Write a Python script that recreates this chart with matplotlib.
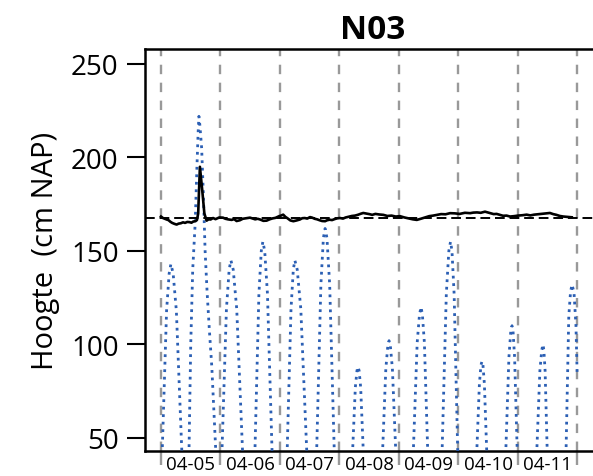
import matplotlib
matplotlib.use("Agg")
import matplotlib.pyplot as plt
import numpy as np
import pandas as pd

plt.rcParams['font.family'] = ['Open Sans', 'DejaVu Sans']

# ---- data (hours after 04-05 00:00) ----
tide_hours = [0.0, 0.5, 2.25, 3.3, 4.0, 4.9, 6.2, 8.4,
              9.85,
              11.3, 12.0, 12.8, 13.8, 14.5, 15.0, 15.3, 15.7, 16.4, 17.1, 17.8, 18.6, 19.5, 20.5, 22.1,
              23.35,
              24.6, 26.4, 27.5, 28.2, 29.14, 30.55, 32.9,
              35.4,
              37.9, 39.5, 40.46, 41.1, 41.84, 42.95, 44.8,
              47.85,
              50.9, 52.45, 53.38, 54.0, 54.96, 56.4, 58.8,
              60.8,
              62.8, 64.5, 65.52, 66.2, 66.94, 68.05, 69.9,
              73.6,
              77.3, 78.4, 79.06, 79.5, 79.92, 80.55, 81.6,
              85.5,
              89.4, 90.7, 91.48, 92.0, 92.54, 93.35, 94.7,
              98.25,
              101.8, 103.35, 104.28, 104.9, 105.44, 106.25, 107.6,
              110.5,
              113.4, 115.1, 116.12, 116.8, 117.38, 118.25, 119.7,
              123.55,
              127.4, 128.45, 129.08, 129.5, 129.88, 130.45, 131.4,
              135.25,
              139.1, 140.35, 141.1, 141.6, 142.02, 142.65, 143.7,
              147.65,
              151.6, 152.85, 153.6, 154.1, 154.44, 154.95, 155.8,
              159.6,
              163.4, 164.5, 165.2, 165.8, 166.6, 167.4, 167.9]
tide_cm = [25, 43, 118, 138, 143, 138, 118, 43,
           -10,
           43, 100, 140, 165, 195, 214, 222, 217, 205, 180, 150, 128, 108, 88, 43,
           0,
           43, 119, 140, 145, 140, 119, 43,
           -40,
           43, 127, 150, 155, 150, 127, 43,
           -50,
           43, 119, 140, 145, 140, 119, 43,
           -40,
           43, 132, 157, 162, 157, 132, 43,
           -70,
           43, 77, 86, 88, 86, 77, 43,
           -70,
           43, 87, 99, 102, 99, 87, 43,
           -70,
           43, 101, 116, 120, 116, 101, 43,
           -60,
           43, 127, 150, 155, 150, 127, 43,
           -80,
           43, 79, 89, 91, 89, 79, 43,
           -80,
           43, 93, 107, 110, 107, 93, 43,
           -80,
           43, 86, 97, 100, 97, 86, 43,
           -80,
           43, 115, 128, 132, 128, 110, 83]

level_hours = [0, 0.8, 1.5, 2.3, 3, 3.8, 4.5, 5.4, 6.3, 7.1, 8, 8.9, 9.7, 10.6, 11.5, 12.3, 13.0, 13.8,
               14.5, 15.0, 15.7, 16.6, 17.5, 18.4, 19.2, 20, 21, 22, 23.5, 25, 26, 27, 28.5, 29.5,
               30.5, 31.8, 33, 34.5, 35.9, 37, 38, 39, 40, 41.3, 42.6, 43.8, 45, 46.2, 47.5, 48.4,
               49.3, 50.2, 51, 52.2, 53.4, 54.7, 56, 57, 58, 59, 60.1, 61, 62, 63, 64, 65, 66.2,
               67, 68, 69, 70, 71, 72.2, 73.4, 74.5, 75.8, 77, 78.3, 79.6, 80.6, 81.6, 82.8, 84,
               85.2, 86.5, 88, 89.7, 91.3, 93, 94.7, 96.4, 98.2, 100, 101.6, 103.2, 104.8, 106.5,
               108.2, 109.8, 111.4, 113, 114.8, 116.6, 118.5, 120.5, 122.6, 124.7, 126, 127.5, 129,
               130.7, 131.8, 133, 134.2, 135.4, 136.7, 138, 139.4, 140.8, 142.4, 144, 145.8, 147.5,
               149, 150.5, 152, 153.5, 155.2, 156.9, 158.2, 159.5, 160.9, 162.3, 164, 165.7]
level_cm = [168.4, 167.6, 167.2, 166.8, 166.5, 165.6, 165.0, 164.5, 164.1, 164.6, 164.8, 165.3, 165.0,
            165.5, 165.4, 165.1, 165.7, 165.9, 166.5, 170, 195, 183, 170, 166.2, 166.9, 166.8,
            167.6, 167.0, 167.9, 167.8, 167.2, 166.9, 166.6, 167.0, 166.0, 166.4, 167.2, 167.5,
            167.8, 167.3, 166.9, 167.2, 166.8, 166.1, 166.2, 166.9, 167.4, 167.7, 168.5, 168.9,
            169.4, 168.2, 167.5, 166.3, 165.9, 166.3, 166.8, 167.5, 167.6, 167.3, 168.1, 167.8,
            167.2, 166.9, 166.4, 166.0, 165.9, 166.4, 166.7, 166.5, 167.0, 167.4, 167.6, 167.3,
            167.9, 168.3, 168.7, 168.9, 169.4, 169.9, 170.3, 170.0, 169.7, 169.3, 169.8, 169.5,
            169.3, 168.7, 168.9, 168.4, 168.6, 167.9, 167.4, 166.9, 166.6, 167.2, 167.9, 168.6,
            168.9, 169.3, 169.7, 169.6, 170.2, 170.1, 169.8, 170.4, 170.2, 170.5, 170.6, 170.4,
            171.0, 170.6, 170.2, 169.7, 169.8, 169.3, 168.8, 168.9, 168.4, 168.6, 168.9, 169.1,
            169.4, 169.0, 169.4, 169.6, 169.8, 170.0, 170.3, 169.7, 169.3, 168.7, 168.4, 168.2,
            168.0]

ref_level = 167.5
day_labels = ['04-05', '04-06', '04-07', '04-08', '04-09', '04-10', '04-11']
y_ticks = [50, 100, 150, 200, 250]
title = 'N03'
ylabel = 'Hoogte  (cm NAP)'

base = pd.Timestamp('2024-04-05 00:00')
tide_t = base + pd.to_timedelta(tide_hours, unit='h')
level_t = base + pd.to_timedelta(level_hours, unit='h')

fig = plt.figure(figsize=(5.93, 4.77), dpi=100)
ax = fig.add_axes([145/593, 25/477, 456/593, 402/477])

x0 = base - pd.Timedelta(hours=6.45)
x1 = base + pd.Timedelta(hours=177.5)
ax.set_xlim(x0, x1)
ax.set_ylim(43, 258)

midnights = [base + pd.Timedelta(days=i) for i in range(8)]
for m in midnights:
    ax.axvline(m, color='#999999', lw=1.7, dashes=(4, 3.6), zorder=1)

ax.axhline(ref_level, color='black', lw=1.4, dashes=(5, 2.5), zorder=2)
ax.plot(tide_t, tide_cm, color='#2b5fb4', lw=2.0, dashes=(1, 1.7), zorder=3)
ax.plot(level_t, level_cm, color='black', lw=1.9, zorder=4)

ax.set_xticks(midnights)
ax.set_xticklabels([])
ax.tick_params(axis='x', which='major', length=10, width=1.7, color='#999999')
noons = [base + pd.Timedelta(days=i, hours=12) for i in range(len(day_labels))]
ax.set_xticks(noons, minor=True)
ax.set_xticklabels(day_labels, minor=True, fontsize=13.5)
ax.tick_params(axis='x', which='minor', length=0, pad=3)

ax.set_yticks(y_ticks)
ax.set_yticklabels([str(v) for v in y_ticks], fontsize=20)
ax.tick_params(axis='y', length=13, width=1.5, pad=6)

for s in ['left', 'top', 'bottom', 'right']:
    ax.spines[s].set_linewidth(1.8)

ax.set_ylabel(ylabel, fontsize=21, labelpad=8)
ax.set_title(title, fontsize=24, fontweight='bold', pad=8)

fig.savefig('out.png', dpi=100)
